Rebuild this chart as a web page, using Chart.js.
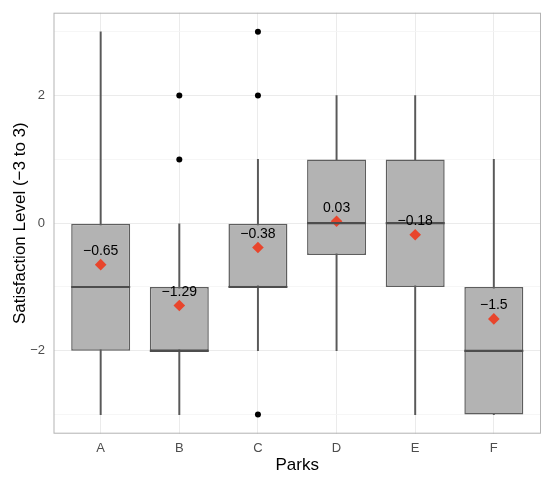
<!DOCTYPE html>
<html>
<head>
<meta charset="utf-8">
<script src="https://cdn.jsdelivr.net/npm/chart.js@4"></script>
<style>
html,body{margin:0;padding:0;background:#fff;}
#wrap{width:550px;height:478px;}
</style>
</head>
<body>
<div id="wrap"><canvas id="c" width="550" height="478"></canvas></div>
<script>
const categories = ['A','B','C','D','E','F'];
const whiskerLow  = [-3, -3, -2, -2, -3, -3];
const q1Values    = [-2, -2, -1, -0.5, -1, -3];
const medians     = [-1, -2, -1, 0, 0, -2];
const q3Values    = [0, -1, 0, 1, 1, -1];
const whiskerHigh = [3, 0, 1, 2, 2, 1];
const means       = [-0.65, -1.29, -0.38, 0.03, -0.18, -1.5];
const meanLabels  = ['\u22120.65', '\u22121.29', '\u22120.38', '0.03', '\u22120.18', '\u22121.5'];
const outlierCats = ['B', 'B', 'C', 'C', 'C'];
const outlierVals = [1, 2, 2, 3, -3];
const yTicks = [-3, -2, -1, 0, 1, 2, 3];

const FONT = "'Liberation Sans', Arial, Helvetica, sans-serif";
const pos = i => i + 1;
const BOX_HALF = 0.375;
const isMajor = v => Math.abs(Math.round(v)) % 2 === 0;

const medianPlugin = {
  id: 'medians',
  afterDatasetsDraw(chart) {
    const {ctx, scales: {x, y}} = chart;
    ctx.save();
    ctx.strokeStyle = '#4d4d4d';
    ctx.lineWidth = 2.2;
    medians.forEach((m, i) => {
      const yp = y.getPixelForValue(m);
      ctx.beginPath();
      ctx.moveTo(x.getPixelForValue(pos(i) - BOX_HALF), yp);
      ctx.lineTo(x.getPixelForValue(pos(i) + BOX_HALF), yp);
      ctx.stroke();
    });
    ctx.restore();
  }
};

const labelPlugin = {
  id: 'meanLabels',
  afterDraw(chart) {
    const {ctx, scales: {x, y}, chartArea} = chart;
    ctx.save();
    ctx.fillStyle = '#000';
    ctx.font = '14px ' + FONT;
    ctx.textAlign = 'center';
    ctx.textBaseline = 'middle';
    means.forEach((m, i) => {
      ctx.fillText(meanLabels[i], x.getPixelForValue(pos(i)), y.getPixelForValue(m) - 13.5);
    });
    ctx.strokeStyle = '#b3b3b3';
    ctx.lineWidth = 1;
    ctx.strokeRect(chartArea.left + 0.5, chartArea.top + 0.5, chartArea.right - chartArea.left - 1, chartArea.bottom - chartArea.top - 1);
    ctx.restore();
  }
};

new Chart(document.getElementById('c'), {
  type: 'bar',
  data: {
    datasets: [
      {
        label: 'whiskers',
        data: categories.map((c, i) => ({x: pos(i), y: [whiskerLow[i], whiskerHigh[i]]})),
        backgroundColor: '#595959',
        barThickness: 1.3,
        grouped: false,
        order: 5
      },
      {
        label: 'boxes',
        data: categories.map((c, i) => ({x: pos(i), y: [q1Values[i], q3Values[i]]})),
        backgroundColor: '#b3b3b3',
        borderColor: '#5e5e5e',
        borderWidth: 1.5,
        borderSkipped: false,
        barPercentage: 0.75,
        categoryPercentage: 1,
        grouped: false,
        order: 4
      },
      {
        type: 'line',
        label: 'outliers',
        data: outlierCats.map((c, i) => ({x: pos(categories.indexOf(c)), y: outlierVals[i]})),
        showLine: false,
        pointRadius: 3,
        pointBackgroundColor: '#000',
        pointBorderWidth: 0,
        order: 2
      },
      {
        type: 'line',
        label: 'means',
        data: means.map((m, i) => ({x: pos(i), y: m})),
        showLine: false,
        pointStyle: 'rectRot',
        pointRadius: 5.8,
        pointBackgroundColor: '#e8452c',
        pointBorderWidth: 0,
        order: 1
      }
    ]
  },
  options: {
    responsive: false,
    animation: false,
    layout: {padding: {top: 12.7, right: 9, left: 0, bottom: 0}},
    plugins: {legend: {display: false}, tooltip: {enabled: false}},
    scales: {
      x: {
        type: 'linear',
        min: 0.4,
        max: 6.6,
        offset: false,
        afterBuildTicks: s => { s.ticks = categories.map((c, i) => ({value: pos(i)})); },
        afterFit: s => { s.height = 44.3; s.paddingLeft = 0; s.paddingRight = 0; },
        ticks: {
          callback: v => categories[v - 1],
          color: '#4d4d4d',
          font: {family: FONT, size: 13},
          padding: 7,
          autoSkip: false,
          maxRotation: 0
        },
        grid: {color: '#ebebeb', lineWidth: 1, drawTicks: false, offset: false},
        border: {display: false},
        title: {display: true, text: 'Parks', color: '#000', font: {family: FONT, size: 17}, padding: {top: 0, bottom: 2.8}}
      },
      y: {
        min: -3.3,
        max: 3.3,
        afterBuildTicks: s => { s.ticks = yTicks.map(v => ({value: v})); },
        afterFit: s => { s.width = 53.5; s.paddingTop = 0; s.paddingBottom = 0; },
        ticks: {
          callback: v => (isMajor(v) ? String(v).replace('-', '\u2212') : ''),
          color: '#4d4d4d',
          font: {family: FONT, size: 13},
          padding: 8.5
        },
        grid: {
          color: c => (c.tick && isMajor(c.tick.value) ? '#ebebeb' : '#f4f4f4'),
          lineWidth: c => (c.tick && isMajor(c.tick.value) ? 1.1 : 0.8),
          drawTicks: false
        },
        border: {display: false},
        title: {display: true, text: 'Satisfaction Level (\u22123 to 3)', color: '#000', font: {family: FONT, size: 17}, padding: {top: 10, bottom: 0}}
      }
    }
  },
  plugins: [medianPlugin, labelPlugin]
});
</script>
</body>
</html>
